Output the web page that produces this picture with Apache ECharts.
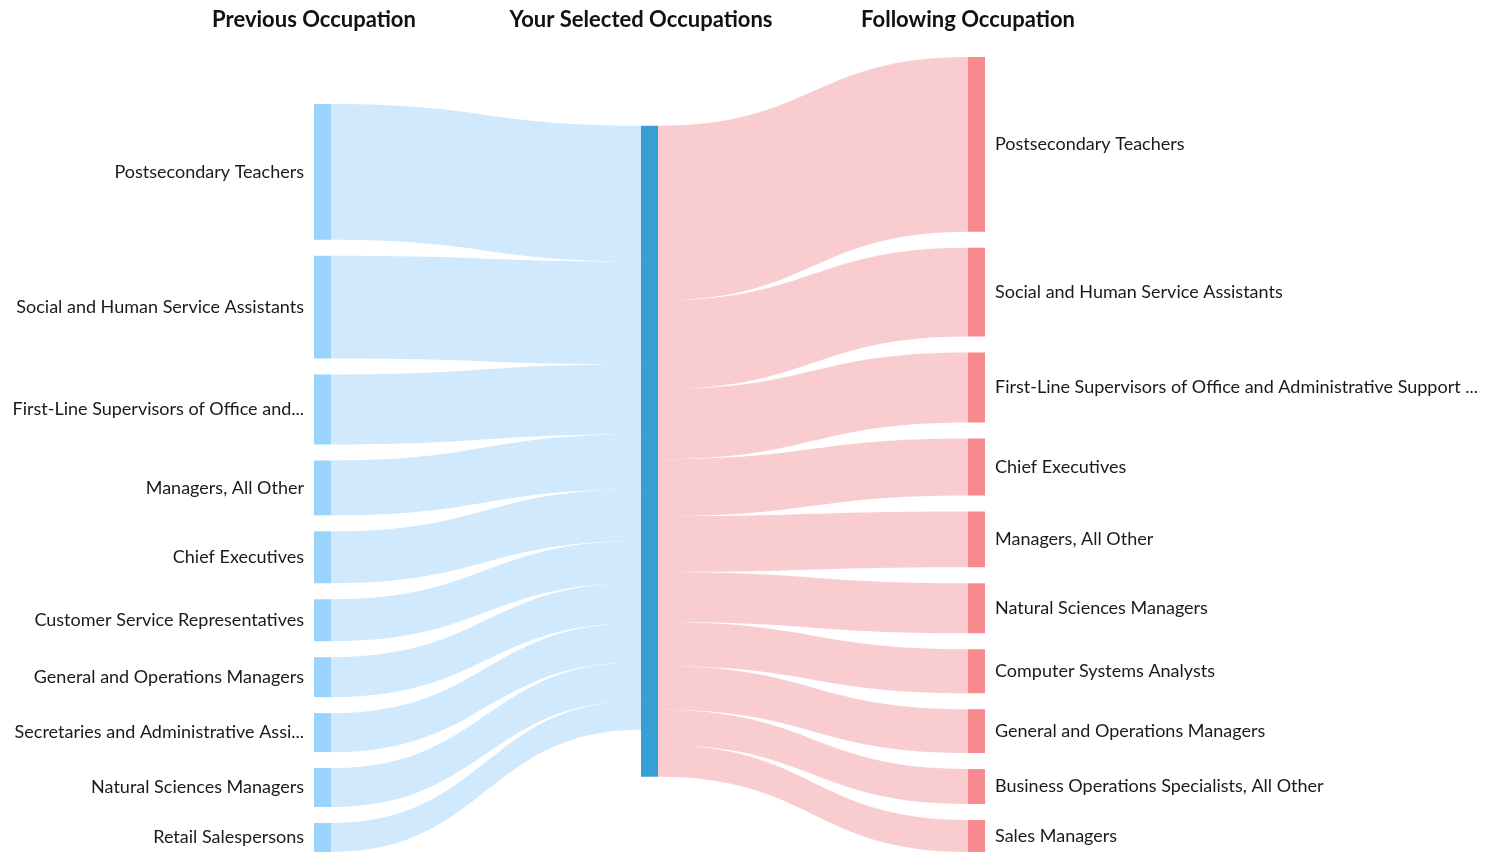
<!DOCTYPE html>
<html>
<head>
<meta charset="utf-8">
<title>Occupation transitions</title>
<script src="https://cdn.jsdelivr.net/npm/echarts@6/dist/echarts.min.js"></script>
<style>
html,body{margin:0;padding:0;background:#fff;}
#chart{width:1494px;height:852px;}
</style>
</head>
<body>
<div id="chart"></div>
<script>
var previousJobs = [
  'Postsecondary Teachers',
  'Social and Human Service Assistants',
  'First-Line Supervisors of Office and Administrative Support Workers',
  'Managers, All Other',
  'Chief Executives',
  'Customer Service Representatives',
  'General and Operations Managers',
  'Secretaries and Administrative Assistants, Except Legal, Medical, and Executive',
  'Natural Sciences Managers',
  'Retail Salespersons'
];
var previousValues = [136, 103, 70, 55, 52, 42, 40, 39, 39, 29];

var followingJobs = [
  'Postsecondary Teachers',
  'Social and Human Service Assistants',
  'First-Line Supervisors of Office and Administrative Support Workers',
  'Chief Executives',
  'Managers, All Other',
  'Natural Sciences Managers',
  'Computer Systems Analysts',
  'General and Operations Managers',
  'Business Operations Specialists, All Other',
  'Sales Managers'
];
var followingValues = [175, 89, 70, 57, 56, 50, 44, 44, 35, 32];

var centerName = 'Your Selected Occupations';
var columnTitles = ['Previous Occupation', 'Your Selected Occupations', 'Following Occupation'];

var nodes = [];
var links = [];
previousJobs.forEach(function(job, i){
  nodes.push({
    name: 'P:' + job,
    itemStyle: {color: '#9AD3FC'},
    label: {position: 'left', width: 293, overflow: 'truncate', ellipsis: '...'}
  });
  links.push({source: 'P:' + job, target: centerName, value: previousValues[i],
    lineStyle: {color: '#90CAF9', opacity: 0.42}});
});
nodes.push({name: centerName, itemStyle: {color: '#379FD3'}, label: {show: false}});
followingJobs.forEach(function(job, i){
  nodes.push({
    name: 'F:' + job,
    itemStyle: {color: '#F88A8F'},
    label: {position: 'right', width: 498, overflow: 'truncate', ellipsis: '...'}
  });
  links.push({source: centerName, target: 'F:' + job, value: followingValues[i],
    lineStyle: {color: '#EF8087', opacity: 0.4}});
});

var myChart = echarts.init(document.getElementById('chart'));
myChart.setOption({
  animation: false,
  // column headings sit centred over each node column
  graphic: columnTitles.map(function(t, i){
    return {
      type: 'text',
      x: 314 + i * 327,
      y: 20,
      style: {
        text: t,
        align: 'center',
        verticalAlign: 'middle',
        fontFamily: 'Lato',
        fontSize: 22,
        fontWeight: 'bold',
        fill: '#111'
      }
    };
  }),
  series: [{
    type: 'sankey',
    left: 314,
    right: 509,
    top: 57,
    bottom: 0,
    nodeWidth: 17,
    nodeGap: 16,
    draggable: false,
    emphasis: {disabled: true},
    label: {
      distance: 10,
      fontFamily: 'Lato',
      fontSize: 18,
      color: '#1a1a1a',
      formatter: function(p){ return p.name.slice(2); }
    },
    lineStyle: {curveness: 0.5},
    data: nodes,
    links: links
  }]
});
</script>
</body>
</html>
